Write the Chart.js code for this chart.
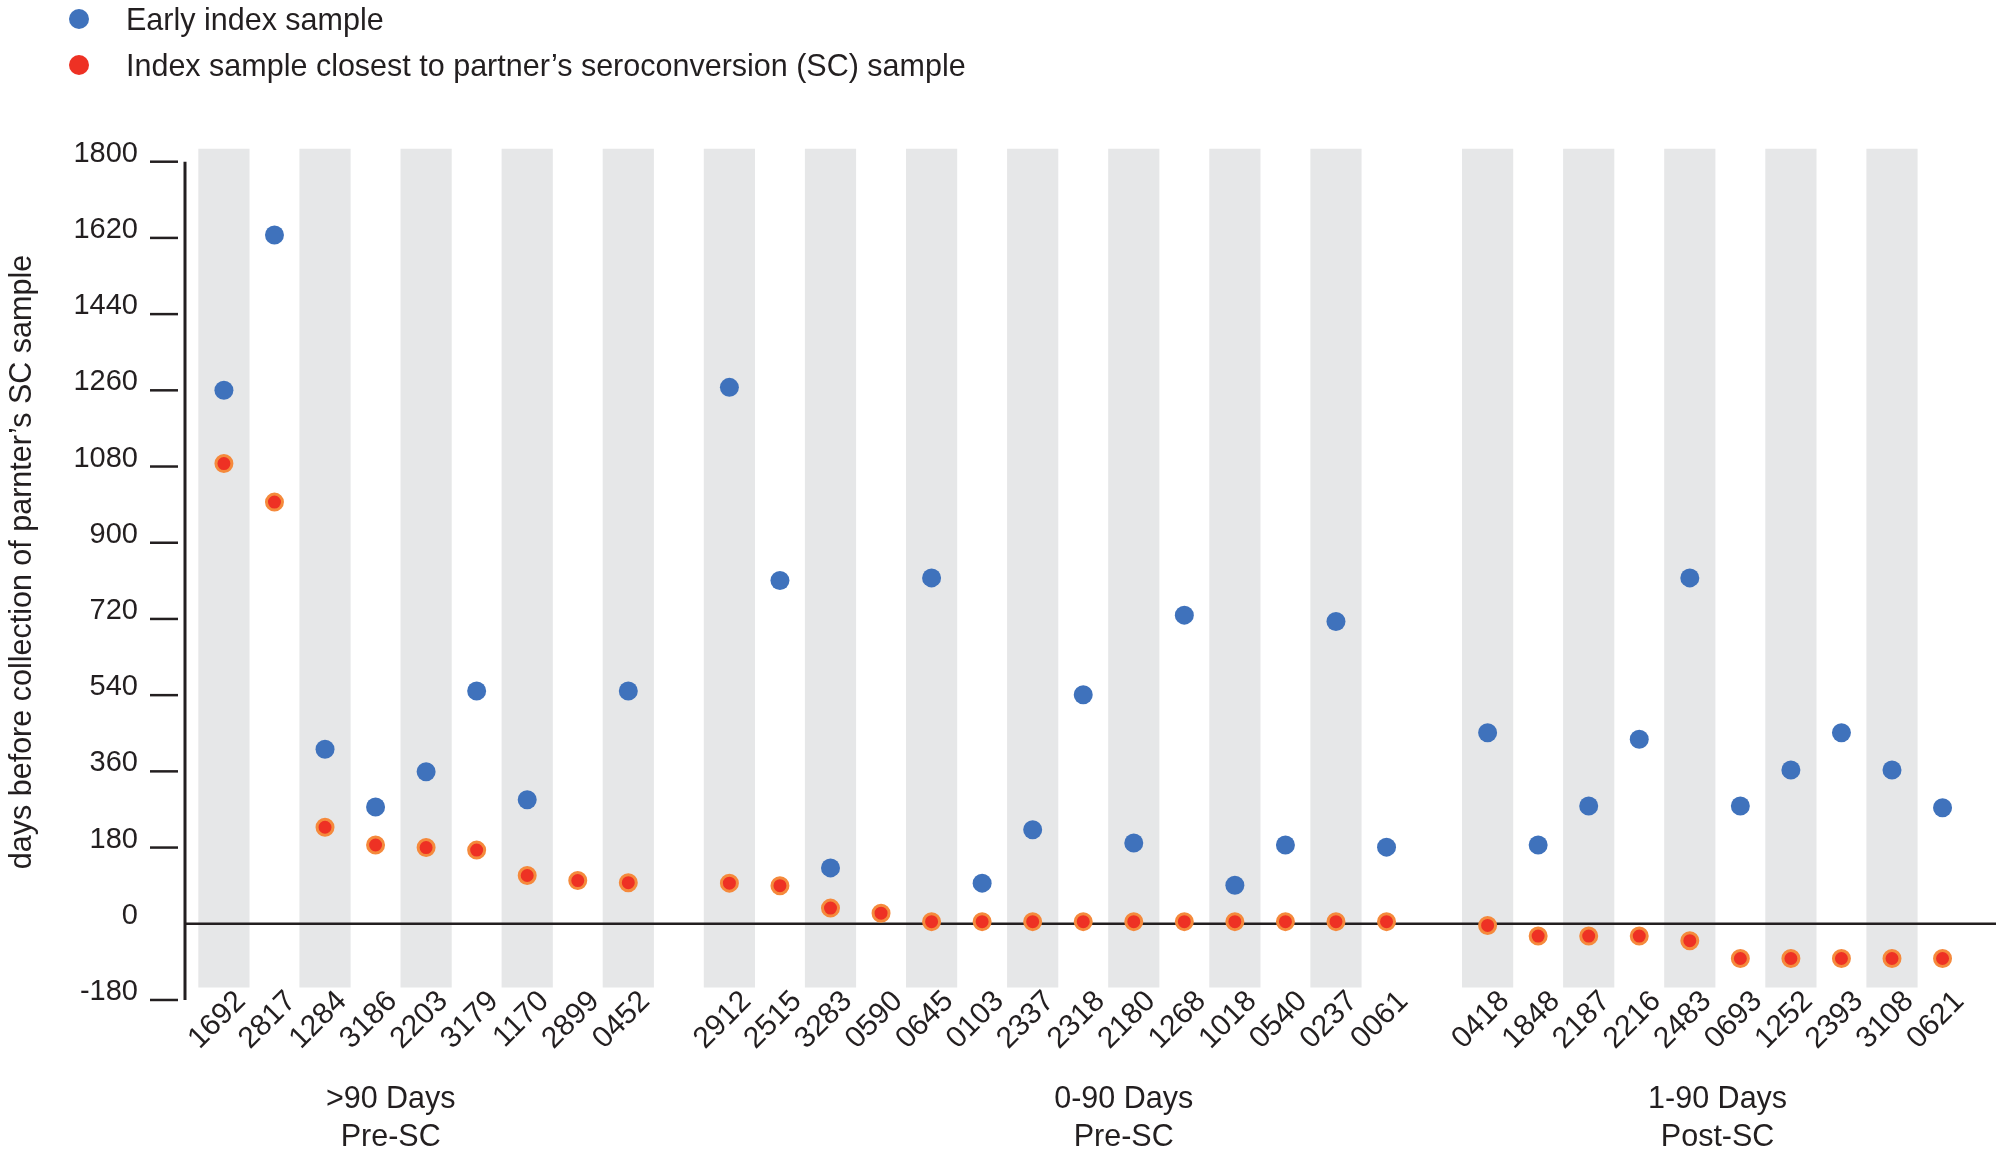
<!DOCTYPE html>
<html>
<head>
<meta charset="utf-8">
<script src="https://cdn.jsdelivr.net/npm/chart.js@4.4.1/dist/chart.umd.min.js"></script>
<style>
  body { margin: 0; background: #fff; }
  #wrap { position: relative; width: 1996px; height: 1159px; }
  #legend { position: absolute; left: 69px; top: -4px; font: 30.5px 'Liberation Sans', Arial, sans-serif; color: #231f20; }
  #legend .item { height: 46px; display: flex; align-items: center; white-space: nowrap; }
  #legend .dot { width: 20px; height: 20px; border-radius: 50%; margin-right: 37px; }
</style>
</head>
<body>
<div id="wrap">
  <canvas id="grafico" width="1996" height="1159"></canvas>
  <div id="legend"></div>
</div>
<script>
// ids of the index samples, '' = gap between the three groups
const sampleIds = ['1692', '2817', '1284', '3186', '2203', '3179', '1170', '2899', '0452', '',
  '2912', '2515', '3283', '0590', '0645', '0103', '2337', '2318', '2180', '1268', '1018', '0540', '0237', '0061', '',
  '0418', '1848', '2187', '2216', '2483', '0693', '1252', '2393', '3108', '0621'];

const earlyIndexDays = [1260, 1627, 412, 276, 359, 550, 293, null, 550, null,
  1267, 811, 132, null, 817, 96, 222, 541, 191, 729, 91, 186, 714, 181, null,
  451, 186, 278, 436, 817, 278, 363, 451, 363, 274];

const closestToScDays = [1087, 996, 228, 186, 180, 174, 114, 102, 97, null,
  96, 90, 37, 25, 5, 5, 5, 5, 5, 5, 5, 5, 5, 5, null,
  -4, -29, -29, -29, -40, -82, -82, -82, -82, -82];

const groupStarts = [0, 10, 25];
const groupTitles = [['>90 Days', 'Pre-SC'], ['0-90 Days', 'Pre-SC'], ['1-90 Days', 'Post-SC']];
const groupTitleAt = [3.3, 17.8, 29.55];

const yTicks = [-180, 0, 180, 360, 540, 720, 900, 1080, 1260, 1440, 1620, 1800];
const bandRange = [-150, 1830];

const FONT = "'Liberation Sans', Arial, sans-serif";
const INK = '#231f20';

function isShaded(i) {
  if (sampleIds[i] === '') return false;
  let start = 0;
  groupStarts.forEach(g => { if (g <= i) start = g; });
  return (i - start) % 2 === 0;
}

function toPoints(values) {
  const pts = [];
  values.forEach((v, i) => { if (v !== null) pts.push({ x: i, y: v }); });
  return pts;
}

const bands = [];
sampleIds.forEach((id, i) => { if (isShaded(i)) bands.push({ x: i, y: bandRange }); });

// axis line, tick marks and the zero line, drawn right after the grey bands
const eixos = {
  id: 'eixos',
  afterDatasetDraw(chart, args) {
    if (args.index !== 0) return;
    const { ctx, chartArea, scales: { y } } = chart;
    ctx.save();
    ctx.strokeStyle = INK;
    ctx.lineWidth = 2.5;
    ctx.beginPath();
    ctx.moveTo(chartArea.left, y.getPixelForValue(0));
    ctx.lineTo(chart.width, y.getPixelForValue(0));
    ctx.stroke();
    ctx.lineWidth = 3;
    ctx.beginPath();
    ctx.moveTo(chartArea.left, y.getPixelForValue(yTicks[yTicks.length - 1]));
    ctx.lineTo(chartArea.left, y.getPixelForValue(yTicks[0]));
    ctx.stroke();
    ctx.lineWidth = 2.5;
    yTicks.forEach(v => {
      if (v === 0) return;
      const py = y.getPixelForValue(v);
      ctx.beginPath();
      ctx.moveTo(chartArea.left - 35, py);
      ctx.lineTo(chartArea.left - 7, py);
      ctx.stroke();
    });
    ctx.restore();
  }
};

const grupos = {
  id: 'grupos',
  afterDraw(chart) {
    const { ctx, scales: { x } } = chart;
    ctx.save();
    ctx.font = '30.5px ' + FONT;
    ctx.fillStyle = INK;
    ctx.textAlign = 'center';
    ctx.textBaseline = 'middle';
    groupTitles.forEach((lines, g) => {
      const px = x.getPixelForValue(groupTitleAt[g]);
      lines.forEach((t, k) => ctx.fillText(t, px, x.bottom - 59 + k * 38));
    });
    ctx.restore();
  }
};

const ctx = document.getElementById('grafico').getContext('2d');
const chart = new Chart(ctx, {
  type: 'scatter',
  data: {
    datasets: [
      {
        type: 'bar',
        label: 'bands',
        data: bands,
        backgroundColor: '#e6e7e8',
        barPercentage: 1,
        categoryPercentage: 1,
        clip: false,
        order: 3
      },
      {
        label: 'Early index sample',
        data: toPoints(earlyIndexDays),
        pointRadius: 9.5,
        pointBorderWidth: 0,
        pointBackgroundColor: '#3f72bc',
        pointBorderColor: '#3f72bc',
        order: 2
      },
      {
        label: 'Index sample closest to partner’s seroconversion (SC) sample',
        data: toPoints(closestToScDays),
        pointRadius: 8,
        pointBorderWidth: 3,
        pointBackgroundColor: '#ee3124',
        pointBorderColor: '#f58a3c',
        order: 1
      }
    ]
  },
  options: {
    responsive: false,
    animation: false,
    devicePixelRatio: 1,
    layout: { padding: { top: 149, left: 0, right: 0, bottom: 0 } },
    plugins: { legend: { display: false }, tooltip: { enabled: false } },
    scales: {
      x: {
        type: 'linear',
        min: -0.77,
        max: 34.84,
        offset: false,
        grid: { display: false },
        border: { display: false },
        afterBuildTicks: s => { s.ticks = sampleIds.map((id, i) => ({ value: i })); },
        afterFit: s => { s.height = 184; },
        ticks: {
          autoSkip: false,
          minRotation: 45,
          maxRotation: 45,
          padding: 1,
          labelOffset: 17,
          color: INK,
          font: { family: FONT, size: 30 },
          callback: v => sampleIds[v] ?? ''
        }
      },
      y: {
        min: -121,
        max: 1830,
        grid: { display: false },
        border: { display: false },
        afterBuildTicks: s => { s.ticks = yTicks.map(v => ({ value: v })); },
        afterFit: s => { s.width = 185; },
        ticks: {
          padding: 39,
          labelOffset: -8,
          color: INK,
          font: { family: FONT, size: 29 },
          callback: v => String(v)
        },
        title: {
          display: true,
          text: 'days before collection of parnter’s SC sample',
          color: INK,
          font: { family: FONT, size: 30.5 },
          padding: { top: 4, bottom: 0 }
        }
      }
    }
  },
  plugins: [eixos, grupos]
});

// legend from the dataset colours
const legenda = document.getElementById('legend');
chart.data.datasets.slice(1).forEach(ds => {
  const item = document.createElement('div');
  item.className = 'item';
  const dot = document.createElement('span');
  dot.className = 'dot';
  dot.style.background = ds.pointBackgroundColor;
  item.appendChild(dot);
  item.appendChild(document.createTextNode(ds.label));
  legenda.appendChild(item);
});
</script>
</body>
</html>
